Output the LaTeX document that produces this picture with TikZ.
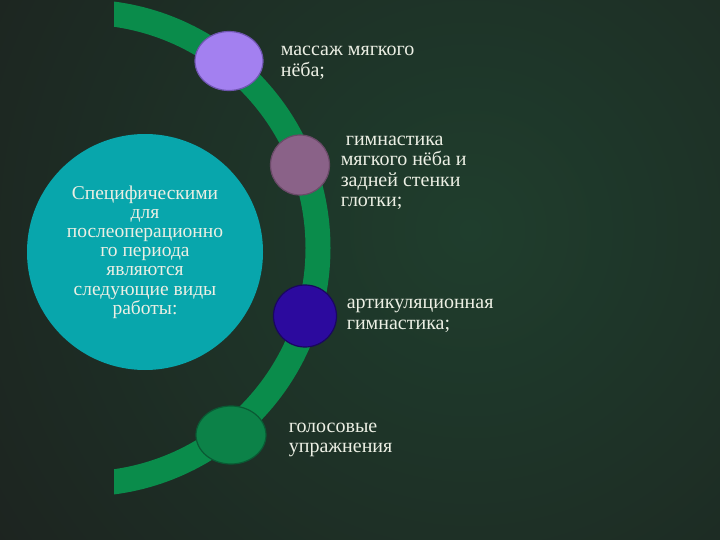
\documentclass[tikz,border=0pt]{standalone}
\usepackage{fontspec}
\setmainfont{Liberation Serif}
\usepackage{tikz}
\usetikzlibrary{calc,positioning,shapes.geometric}

\definecolor{bgin}{HTML}{1F3E2D}
\definecolor{bgout}{HTML}{1C1E1D}
\definecolor{band}{HTML}{0A8C4B}
\definecolor{lav}{HTML}{A380F0}
\definecolor{lavd}{HTML}{6F55B0}
\definecolor{mauve}{HTML}{8A6288}
\definecolor{mauved}{HTML}{6A4A68}
\definecolor{indigo}{HTML}{2C0A9E}
\definecolor{indigod}{HTML}{1A0660}
\definecolor{leaf}{HTML}{0C8248}
\definecolor{leafd}{HTML}{0A5A34}
\definecolor{teal}{HTML}{08A6AC}
\definecolor{txt}{HTML}{ECEFE4}

\begin{document}
\begin{tikzpicture}[x=1pt,y=-1pt]
	\tikzstyle{dot} = [ellipse, draw, line width=1.2pt, inner sep=0pt]
	\tikzstyle{lbl} = [inner sep=0pt, align=left, text=txt, font=\fontsize{20}{20.5}\selectfont]
	\tikzstyle{bigdisc} = [circle, fill=teal, minimum size=236pt, inner sep=0pt, align=center, text=txt, font=\fontsize{19.5}{19.2}\selectfont]

	\useasboundingbox (0,0) rectangle (720,540);
	\begin{scope}
		\clip (0,0) rectangle (720,540);
		\fill[inner color=bgin, outer color=bgout] (470,230) circle (700);
	\end{scope}

	\coordinate (ctr) at (82,248);
	\begin{scope}
		\clip (114,0) rectangle (720,540);
		\draw[band, line width=25pt] ($(ctr)+(-90:236)$) arc[start angle=-90, end angle=90, radius=236];
	\end{scope}

	\node [bigdisc] (works) at (145,252) {Специфическими\\для\\послеоперационно\\го периода\\являются\\следующие виды\\работы:};

	\node [dot, fill=lav, draw=lavd, minimum width=68pt, minimum height=59pt] (massage) at (229,61) {};
	\node [dot, fill=mauve, draw=mauved, minimum width=59pt, minimum height=60pt] (gym) at (300,165) {};
	\node [dot, fill=indigo, draw=indigod, minimum width=63pt, minimum height=62pt] (artic) at (305,316) {};
	\node [dot, fill=leaf, draw=leafd, minimum width=70pt, minimum height=58pt] (voice) at (231,435) {};

	\node [lbl, right = 17pt of massage, yshift=-2pt] (massagetxt) {массаж мягкого\\нёба;};
	\node [lbl, right = 10.5pt of gym, yshift=-8pt] (gymtxt) {\ гимнастика\\мягкого нёба и\\задней стенки\\глотки;};
	\node [lbl, right = 9.5pt of artic] (artictxt) {артикуляционная\\гимнастика;};
	\node [lbl, right = 22pt of voice, yshift=-5pt] (voicetxt) {голосовые\\упражнения};
\end{tikzpicture}
\end{document}
